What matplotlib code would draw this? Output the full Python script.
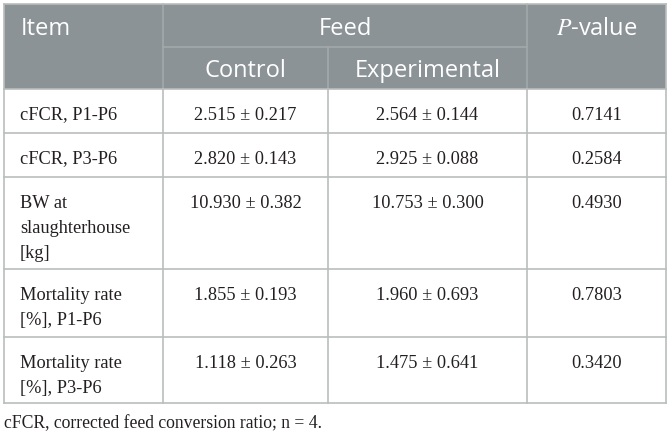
import matplotlib
matplotlib.use("Agg")
import matplotlib.pyplot as plt
from matplotlib.patches import Rectangle

# ---- data ----
items = ["cFCR, P1-P6", "cFCR, P3-P6", "BW at\nslaughterhouse\n[kg]",
         "Mortality rate\n[%], P1-P6", "Mortality rate\n[%], P3-P6"]
control = ["2.515 ± 0.217", "2.820 ± 0.143", "10.930 ± 0.382",
           "1.855 ± 0.193", "1.118 ± 0.263"]
experimental = ["2.564 ± 0.144", "2.925 ± 0.088", "10.753 ± 0.300",
                "1.960 ± 0.693", "1.475 ± 0.641"]
pvalues = ["0.7141", "0.2584", "0.4930", "0.7803", "0.3420"]
header_top = ["Item", "Feed", "P-value"]
header_sub = ["Control", "Experimental"]
caption = "cFCR, corrected feed conversion ratio; n = 4."

# ---- layout (pixels) ----
W, H = 670, 433
xs = [4, 163, 328, 527, 666]
y_top, y_mid, y_head = 4, 47, 89
row_bounds = [89, 133, 177, 269, 337, 403]

HEAD_BG = "#8b9396"
HEAD_LINE = "#a3a9ab"
LINE = "#b9bdbc"
TXT = "#231f20"
SANS = "Open Sans"
SERIF = "Liberation Serif"

fig = plt.figure(figsize=(W / 100, H / 100), dpi=100)
ax = fig.add_axes([0, 0, 1, 1])
ax.set_xlim(0, W)
ax.set_ylim(H, 0)
ax.axis("off")

# header background
ax.add_patch(Rectangle((xs[0], y_top), xs[-1] - xs[0], y_head - y_top,
                       facecolor=HEAD_BG, edgecolor="none", zorder=1))
# header internal lines
ax.plot([xs[1], xs[3]], [y_mid, y_mid], color=HEAD_LINE, lw=1.2, zorder=2)
ax.plot([xs[1], xs[1]], [y_top, y_head], color=HEAD_LINE, lw=1.2, zorder=2)
ax.plot([xs[3], xs[3]], [y_top, y_head], color=HEAD_LINE, lw=1.2, zorder=2)
ax.plot([xs[2], xs[2]], [y_mid, y_head], color=HEAD_LINE, lw=1.2, zorder=2)

# body lines
for y in row_bounds:
    ax.plot([xs[0], xs[-1]], [y, y], color=LINE, lw=1.2, zorder=2)
for x in xs:
    ax.plot([x, x], [row_bounds[0], row_bounds[-1]], color=LINE, lw=1.2, zorder=2)
# outer header border
ax.plot([xs[0], xs[-1]], [y_top, y_top], color=LINE, lw=1.2, zorder=2)
ax.plot([xs[0], xs[0]], [y_top, y_head], color=LINE, lw=1.2, zorder=2)
ax.plot([xs[-1], xs[-1]], [y_top, y_head], color=LINE, lw=1.2, zorder=2)

hfs = 17
# header texts
ax.text(21, 35, header_top[0], color="white", fontsize=hfs, family=SANS,
        ha="left", va="baseline", zorder=3)
ax.text((xs[1] + xs[3]) / 2, 35, header_top[1], color="white", fontsize=hfs,
        family=SANS, ha="center", va="baseline", zorder=3)
ax.text((xs[3] + xs[4]) / 2, 35, r"$\mathit{P}$" + "-value", color="white",
        fontsize=hfs, family=SANS, ha="center", va="baseline", zorder=3,
        math_fontfamily="stix")
ax.text((xs[1] + xs[2]) / 2, 77, header_sub[0], color="white", fontsize=hfs,
        family=SANS, ha="center", va="baseline", zorder=3)
ax.text((xs[2] + xs[3]) / 2, 77, header_sub[1], color="white", fontsize=hfs,
        family=SANS, ha="center", va="baseline", zorder=3)

bfs = 13.2
line_px = 25.5
for i in range(len(items)):
    ybase = row_bounds[i] + 30.5
    for k, part in enumerate(items[i].split("\n")):
        ax.text(20, ybase + k * line_px, part, color=TXT, fontsize=bfs,
                family=SERIF, ha="left", va="baseline", zorder=3)
    ax.text((xs[1] + xs[2]) / 2, ybase, control[i], color=TXT, fontsize=bfs,
            family=SERIF, ha="center", va="baseline", zorder=3)
    ax.text((xs[2] + xs[3]) / 2, ybase, experimental[i], color=TXT, fontsize=bfs,
            family=SERIF, ha="center", va="baseline", zorder=3)
    ax.text((xs[3] + xs[4]) / 2, ybase, pvalues[i], color=TXT, fontsize=bfs,
            family=SERIF, ha="center", va="baseline", zorder=3)

ax.text(4, 428, caption, color=TXT, fontsize=12.7, family=SERIF,
        ha="left", va="baseline", zorder=3)

fig.savefig("out.png", dpi=100)
